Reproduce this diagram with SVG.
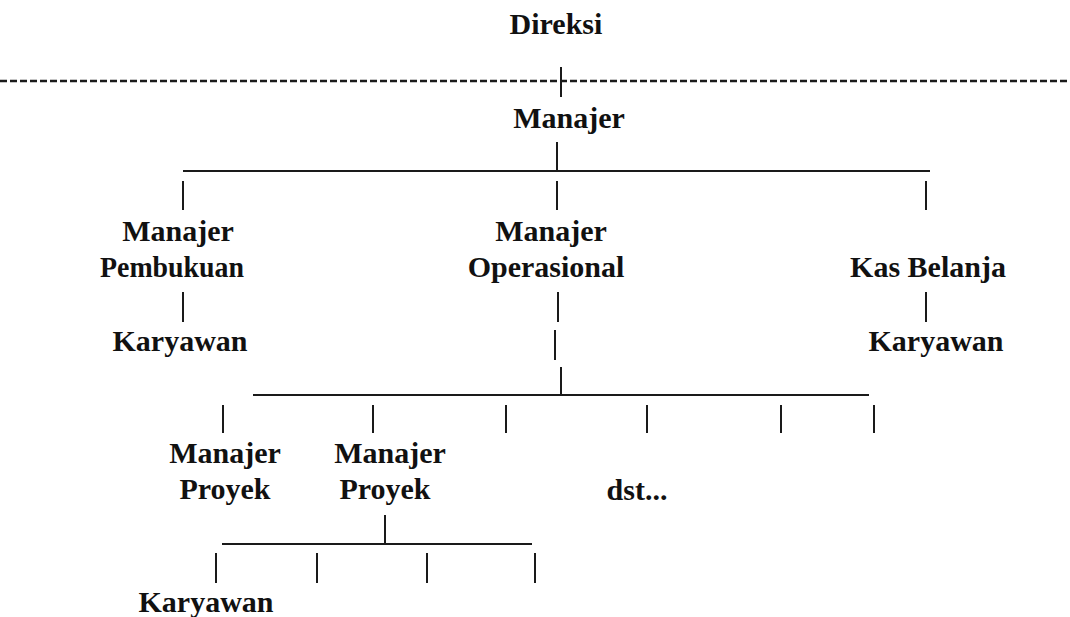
<svg xmlns="http://www.w3.org/2000/svg" width="1070" height="617" viewBox="0 0 1070 617">
<style>
text{font-family:'Liberation Serif','Times New Roman',serif;font-size:30px;font-weight:bold;fill:#111;text-anchor:middle}
.l{stroke:#1a1a1a;stroke-width:2;fill:none}
.d{stroke:#1a1a1a;stroke-width:2.5;stroke-dasharray:7 3;fill:none}
</style>
<rect width="1070" height="617" fill="#fff"/>
<g id="direksi"><text x="556" y="34">Direksi</text></g>
<g id="manajer"><text x="569" y="128">Manajer</text></g>
<g id="manajer-pembukuan"><text x="178" y="241">Manajer</text><text x="172" y="277" textLength="144" lengthAdjust="spacingAndGlyphs">Pembukuan</text></g>
<g id="karyawan-pembukuan"><text x="180" y="351">Karyawan</text></g>
<g id="manajer-operasional"><text x="551" y="241">Manajer</text><text x="546" y="277">Operasional</text></g>
<g id="kas-belanja"><text x="928" y="277">Kas Belanja</text></g>
<g id="karyawan-kas"><text x="936" y="351">Karyawan</text></g>
<g id="manajer-proyek-1"><text x="225" y="463">Manajer</text><text x="225" y="499">Proyek</text></g>
<g id="manajer-proyek-2"><text x="390" y="463">Manajer</text><text x="385" y="499">Proyek</text></g>
<g id="dst"><text x="637" y="500">dst...</text></g>
<g id="karyawan-proyek"><text x="206" y="612">Karyawan</text></g>
<g id="connectors">
<line class="d" x1="0" y1="81" x2="1070" y2="81"/>
<line class="l" x1="561" y1="67" x2="561" y2="97"/>
<line class="l" x1="557" y1="142" x2="557" y2="171"/>
<line class="l" x1="183" y1="171" x2="930" y2="171"/>
<line class="l" x1="183" y1="181" x2="183" y2="210"/>
<line class="l" x1="557" y1="181" x2="557" y2="210"/>
<line class="l" x1="926" y1="181" x2="926" y2="210"/>
<line class="l" x1="183" y1="292" x2="183" y2="322"/>
<line class="l" x1="558" y1="292" x2="558" y2="322"/>
<line class="l" x1="926" y1="292" x2="926" y2="322"/>
<line class="l" x1="555" y1="330" x2="555" y2="360"/>
<line class="l" x1="561" y1="367" x2="561" y2="395"/>
<line class="l" x1="253" y1="395" x2="869" y2="395"/>
<line class="l" x1="223" y1="405" x2="223" y2="433"/>
<line class="l" x1="373" y1="405" x2="373" y2="433"/>
<line class="l" x1="506" y1="405" x2="506" y2="433"/>
<line class="l" x1="647" y1="405" x2="647" y2="433"/>
<line class="l" x1="781" y1="405" x2="781" y2="433"/>
<line class="l" x1="874" y1="405" x2="874" y2="433"/>
<line class="l" x1="385" y1="515" x2="385" y2="544"/>
<line class="l" x1="222" y1="544" x2="532" y2="544"/>
<line class="l" x1="216" y1="553" x2="216" y2="583"/>
<line class="l" x1="317" y1="553" x2="317" y2="583"/>
<line class="l" x1="427" y1="553" x2="427" y2="583"/>
<line class="l" x1="535" y1="553" x2="535" y2="583"/>
</g>
</svg>
